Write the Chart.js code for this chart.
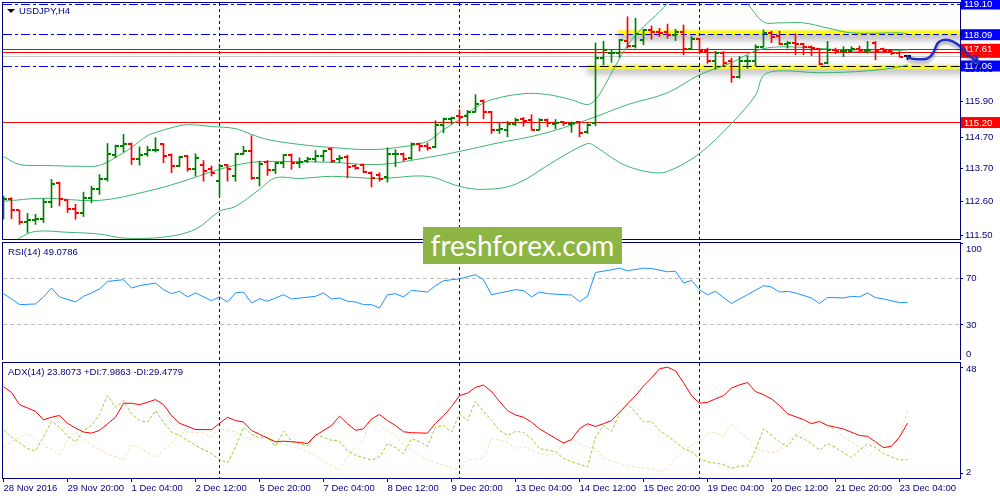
<!DOCTYPE html>
<html>
<head>
<meta charset="utf-8">
<title>USDJPY,H4</title>
<script src="https://cdn.jsdelivr.net/npm/chart.js@4.4.1/dist/chart.umd.min.js"></script>
<style>
  html, body { margin:0; padding:0; background:#ffffff; }
  body { position:relative; width:1000px; height:500px; overflow:hidden; }
  .pane { position:absolute; left:0; width:1000px; }
  .cap { position:absolute; font-family:"Liberation Sans", Arial, sans-serif; font-size:9.5px; line-height:11px; color:#000080; white-space:nowrap; }
  #tri { position:absolute; left:7px; top:9px; width:0; height:0; border-left:4px solid transparent; border-right:4px solid transparent; border-top:4px solid #000; }
  #wm { position:absolute; left:423px; top:227px; width:199px; height:37px; background:#8db544; color:#ffffff; font-family:Lato, "Open Sans", sans-serif; font-size:28px; line-height:36px; text-align:center; z-index:5; }
</style>
</head>
<body>
<div class="pane" style="top:0;height:241px"><canvas id="mainC"></canvas></div>
<div class="pane" style="top:242px;height:118px"><canvas id="rsiC"></canvas></div>
<div class="pane" style="top:361px;height:139px"><canvas id="adxC"></canvas></div>
<div id="tri"></div>
<div class="cap" id="capMain" style="left:19px;top:5px"></div>
<div class="cap" id="capRsi" style="left:8px;top:246px"></div>
<div class="cap" id="capAdx" style="left:8px;top:366px"></div>
<div id="wm">freshforex.com</div>
<script>
// ================= DATA =================
const symbolCaption = 'USDJPY,H4';
const rsiCaption = 'RSI(14) 49.0786';
const adxCaption = 'ADX(14) 23.8073 +DI:7.9863 -DI:29.4779';

// H4 bars, index 0 = 28 Nov 2016 12:00
const opens = [112.62,112.67,112.31,111.93,112.00,112.02,112.59,113.22,112.64,112.35,
  112.24,112.72,113.02,113.33,114.14,114.42,114.51,113.99,114.15,114.29,
  114.50,114.12,113.77,114.09,113.68,113.80,113.66,113.27,113.79,113.44,
  114.18,114.26,113.38,113.91,113.63,113.88,114.13,113.88,113.93,114.01,
  114.09,114.34,113.99,114.07,113.77,113.79,113.55,113.49,113.42,114.15,
  114.18,114.04,114.48,114.44,114.40,115.13,115.32,115.41,115.43,115.56,
  115.90,115.55,114.95,114.97,115.15,115.32,115.30,114.97,115.27,115.16,
  115.21,115.15,115.21,114.88,115.20,117.32,117.48,117.50,117.87,117.72,
  117.92,118.23,118.19,118.17,118.08,118.19,117.61,117.94,117.54,117.21,
  117.48,117.21,116.70,117.21,117.23,117.70,118.14,118.05,117.79,117.83,
  117.79,117.70,117.61,117.15,117.59,117.54,117.54,117.62,117.54,117.83,
  117.61,117.57,117.48,117.38];
const highs = [112.78,112.73,112.32,112.21,112.18,112.70,113.33,113.24,112.65,112.51,
  112.91,113.11,113.49,114.51,114.46,114.81,114.53,114.40,114.42,114.70,
  114.51,114.17,114.09,114.12,114.17,113.95,113.77,113.84,113.82,114.18,
  114.42,114.77,113.93,113.95,113.90,114.15,114.17,114.04,114.06,114.28,
  114.29,114.37,114.12,114.13,113.82,113.84,113.58,113.55,114.37,114.31,
  114.20,114.53,114.53,114.53,115.26,115.35,115.38,115.62,115.60,116.12,
  115.95,115.57,115.17,115.24,115.35,115.37,115.46,115.33,115.32,115.30,
  115.24,115.22,115.24,115.17,117.82,117.87,117.61,117.94,118.68,118.63,
  118.27,118.38,118.30,118.44,118.27,118.41,118.03,117.97,117.65,117.54,
  117.54,117.32,117.37,117.40,117.76,118.25,118.21,118.21,117.87,118.12,
  117.81,117.72,117.63,117.87,117.65,117.70,117.70,117.72,117.87,117.87,
  117.65,117.59,117.54,117.40];
const lows = [112.02,112.04,111.85,111.58,111.85,111.91,112.40,112.46,112.24,112.02,
  112.11,112.56,112.84,113.27,114.04,114.23,113.82,113.80,114.09,114.23,
  113.88,113.55,113.75,113.60,113.44,113.27,113.44,112.78,113.27,113.27,
  114.15,113.33,113.11,113.46,113.52,113.71,113.66,113.71,113.88,113.90,
  113.93,113.88,113.88,113.38,113.66,113.55,113.08,113.27,113.24,113.75,
  113.93,113.99,114.26,114.29,114.37,114.86,115.15,115.17,115.10,115.54,
  115.32,114.84,114.84,114.73,115.10,115.08,114.95,114.95,115.06,114.99,
  115.10,114.88,114.73,114.84,115.10,117.10,117.18,117.35,117.65,117.65,
  117.76,117.94,118.03,117.97,117.90,117.43,117.59,117.48,117.15,116.96,
  117.05,116.52,116.66,116.99,117.07,117.68,117.83,117.76,117.65,117.43,
  117.43,117.40,117.10,117.13,117.46,117.37,117.50,117.50,117.48,117.26,
  117.50,117.43,117.35,117.27];
const closes = [112.70,112.32,111.93,112.00,112.02,112.59,113.17,112.67,112.35,112.24,
  112.73,113.00,113.33,114.15,114.42,114.51,113.99,114.14,114.29,114.31,
  114.09,113.77,114.07,113.68,114.04,113.62,113.55,113.77,113.66,114.15,
  114.26,113.38,113.82,113.63,113.88,114.12,113.88,113.91,113.99,114.09,
  114.26,113.93,114.04,113.75,113.71,113.57,113.38,113.35,114.15,114.18,
  114.01,114.48,114.42,114.37,115.13,115.32,115.35,115.38,115.54,115.81,
  115.54,114.95,114.99,115.15,115.30,115.24,114.97,115.27,115.19,115.20,
  115.19,115.17,114.86,115.13,117.33,117.59,117.50,117.90,117.72,118.11,
  118.23,118.17,118.14,118.08,118.19,117.61,117.94,117.54,117.21,117.48,
  117.15,116.70,117.21,117.24,117.68,118.14,118.03,117.79,117.83,117.79,
  117.70,117.65,117.13,117.59,117.54,117.56,117.62,117.59,117.59,117.57,
  117.57,117.48,117.37,117.38];

// Bollinger bands (read at selected bars)
const bbUpX = [0,2,5,10,12,14,16,18,19,21,23,26,29,31,33,37,41,46,50,53,55,57,59,61,65,68,71,73,74,75,78,80,82,84,86,88,90,92,93,95,97,100,103,106,112,113];
const bbUpV = [114.08,113.82,113.79,113.76,113.79,114.05,114.38,114.77,114.87,115.03,115.13,115.07,115.00,114.81,114.64,114.48,114.38,114.31,114.41,114.58,114.97,115.30,115.69,115.95,116.15,116.12,115.95,115.79,115.95,116.35,117.74,118.35,118.84,119.40,119.82,119.95,119.72,119.33,119.10,118.51,118.48,118.48,118.31,118.15,118.15,118.12];
const bbMidX = [0,5,12,18,22,27,31,35,41,47,53,57,62,66,70,74,78,83,87,91,94,97,103,108,113];
const bbMidV = [112.61,112.71,112.64,112.94,113.23,113.66,113.89,113.92,113.89,113.82,114.05,114.25,114.54,114.74,115.03,115.39,115.79,116.18,116.77,117.17,117.56,117.69,117.62,117.53,117.59];
const bbLowX = [0,2,4,8,12,15,20,24,27,29,32,34,37,41,47,53,57,60,64,69,73,74,76,78,81,83,87,91,94,95,97,102,108,112,113];
const bbLowV = [111.03,111.40,111.62,111.59,111.53,111.40,111.43,111.69,112.28,112.44,113.00,113.38,113.36,113.43,113.36,113.43,113.10,113.00,113.17,113.95,114.51,114.41,114.05,113.76,113.56,113.59,114.18,115.17,116.10,116.75,116.90,116.84,116.90,117.03,117.10];

// RSI(14)
const rsiX = [0,1,2,4,5,6,7,9,10,11,12,13,15,16,17,19,20,21,22,23,24,26,27,28,29,30,31,32,33,35,36,39,40,41,42,43,44,45,46,47,48,49,50,51,53,54,55,56,57,59,60,61,62,64,65,66,67,68,71,72,73,74,76,77,78,80,81,83,84,85,86,87,88,89,91,92,93,95,96,97,98,99,101,102,103,105,106,107,108,109,110,112,113];
const rsiV = [56.7,52.2,47.3,47.9,53.9,61.5,53.9,49.6,54.4,57.3,60.7,67.2,68.6,61.5,63.5,65.8,60.1,56.7,58.7,53.9,57.3,50.7,53.9,49.6,57.3,58.1,48.8,52.4,50.2,55.8,52.2,54.4,57.3,52.2,53.0,50.2,49.6,47.3,47.3,44.5,55.8,56.7,53.9,59.5,58.1,63.5,67.7,68.6,69.4,72.9,68.6,55.8,57.3,60.1,59.3,53.9,58.1,56.7,55.5,49.9,54.4,74.8,77.1,78.5,76.3,78.5,78.2,75.4,75.9,65.8,68.0,60.1,55.8,58.7,48.2,52.2,55.8,63.5,62.4,58.1,58.7,57.3,53.0,48.2,53.5,53.0,54.4,53.9,57.3,53.3,52.2,49.0,49.1];

// ADX(14), +DI, -DI
const adxX = [0,1,2,4,5,6,7,8,9,10,11,12,14,15,16,17,18,19,20,21,22,24,26,27,28,29,30,31,32,34,35,37,38,39,41,42,43,44,45,46,47,48,49,50,51,53,54,55,56,57,58,59,60,61,62,63,64,65,66,67,68,70,71,72,73,74,75,76,77,78,79,80,81,82,83,84,85,86,87,88,89,90,91,92,93,94,95,96,97,98,100,101,102,103,104,105,107,108,109,110,111,112,113];
const adxV = [39.7,37.2,31.9,29.0,25.3,26.4,27.2,23.8,21.7,20.0,19.5,20.7,26.4,32.5,32.5,31.9,32.9,34.1,31.9,27.2,23.8,21.1,21.0,23.8,26.4,25.0,24.3,20.7,19.0,15.7,16.0,15.5,15.0,18.5,22.8,26.9,23.6,20.7,21.4,25.7,27.6,25.0,22.8,20.1,19.7,19.5,23.8,27.0,31.0,35.8,36.9,39.4,40.4,37.6,33.3,29.3,27.4,26.4,24.3,21.4,19.3,15.2,16.7,21.4,23.6,22.4,23.6,25.0,28.6,32.2,35.8,40.0,43.5,47.5,48.2,46.6,41.5,35.8,32.5,32.9,34.4,35.8,39.1,40.5,41.5,37.6,36.2,34.4,31.5,27.9,25.4,23.6,24.6,22.8,22.1,21.3,18.5,18.1,15.7,13.2,13.8,17.8,23.8];
const pdiX = [0,1,2,3,4,5,6,7,8,9,10,11,12,13,14,15,16,17,18,19,20,21,22,24,26,27,28,29,30,31,32,33,34,35,36,37,38,39,41,42,43,44,46,47,48,49,50,51,52,53,54,55,56,57,58,59,60,61,62,63,64,65,66,67,69,70,71,73,74,75,76,77,78,79,80,81,82,84,85,86,87,88,90,91,92,93,94,95,96,97,98,99,100,101,102,103,104,106,107,108,109,110,111,112,113];
const pdiV = [21.0,17.8,15.2,12.8,11.8,17.8,24.7,22.1,18.1,15.7,20.7,22.8,27.6,35.8,30.7,33.6,27.9,25.0,24.3,29.3,24.3,20.0,18.5,14.2,10.6,8.0,6.6,13.5,22.1,19.0,17.4,17.8,13.8,20.4,16.1,15.0,13.9,19.0,16.4,16.1,11.8,9.9,7.8,9.2,15.0,13.2,10.6,17.1,15.9,13.8,22.1,22.8,20.0,27.9,25.0,33.3,29.0,25.0,20.7,18.5,20.3,19.8,17.1,12.8,11.4,8.5,7.0,4.9,17.8,22.8,20.3,27.9,32.2,28.6,24.3,24.6,20.7,15.7,12.8,11.4,8.5,7.0,5.9,4.2,5.2,5.2,12.1,21.4,18.5,15.7,13.6,18.5,17.1,15.0,12.1,15.0,13.2,8.9,12.1,14.7,13.2,10.6,9.2,7.8,8.0];
const mdiX = [0,1,3,4,5,7,8,9,10,11,13,15,16,17,19,21,22,23,25,26,27,29,31,32,33,34,36,37,39,40,42,43,44,45,46,47,48,49,50,52,53,55,57,58,60,61,62,63,64,65,67,68,69,70,71,73,74,75,77,79,81,82,83,84,85,87,88,89,90,91,92,93,94,96,97,98,100,101,102,103,104,105,107,108,109,111,112,113];
const mdiV = [13.5,15.7,19.5,17.1,14.2,10.2,16.4,20.0,17.1,14.2,10.6,7.8,14.2,13.2,8.9,15.0,19.3,20.0,19.5,17.8,21.4,20.0,16.4,21.0,19.3,15.7,13.5,12.8,9.9,7.5,3.7,9.2,13.5,17.1,25.7,22.8,20.5,18.5,14.2,9.9,7.8,5.6,3.4,7.8,8.5,17.1,16.4,15.7,12.8,13.5,10.6,9.9,10.6,15.2,17.1,13.2,12.8,8.5,6.3,4.6,4.2,2.7,4.2,8.5,11.8,16.4,19.0,20.0,17.8,23.6,20.0,17.5,12.8,10.9,11.8,16.4,21.4,24.3,25.7,22.8,20.7,17.8,13.5,9.2,12.1,14.2,17.8,29.5];

// axes
const xTickBars = [0,8,16,24,32,40,48,56,64,72,80,88,96,104,112];
const xTickLabels = ['28 Nov 2016','29 Nov 20:00','1 Dec 04:00','2 Dec 12:00','5 Dec 20:00','7 Dec 04:00','8 Dec 12:00','9 Dec 20:00','13 Dec 04:00','14 Dec 12:00','15 Dec 20:00','19 Dec 04:00','20 Dec 12:00','21 Dec 20:00','23 Dec 04:00'];
const priceTicks = [116.95, 115.90, 114.70, 113.70, 112.60, 111.50];
const rsiTicks = [100, 70, 30, 0];
const rsiLevels = [70, 30];
const adxTicks = [48, 2];

// chart objects (levels in price, anchors in bar index)
const sepBars = [27, 57, 87];
const blueLevels = [119.10, 118.09, 117.06];
const redLevels = [117.61, 117.51, 115.20];
const bidLevel = 117.38;
const boxLevels = [119.10, 118.09, 117.51, 117.61, 117.06, 115.20];
const zoneFrom = [76.8, 72.9];
const zoneHi = [118.23, 117.10];
const zoneLo = [118.09, 116.97];
const zoneLineLevel = [118.09, 117.06];
const pathX = [113.0, 113.6, 115.4, 116.2, 116.8, 117.7, 118.7, 119.8, 120.9, 121.9];
const pathY = [117.36, 117.30, 117.30, 117.49, 117.82, 117.92, 117.86, 117.66, 117.36, 117.17];

// ================= STYLE =================
const FONT = '"Liberation Sans", Arial, sans-serif';
const NAVY = '#000080';
const BULL = '#007f00', BEAR = '#ff0000', DOJI = '#000000';
const BB = '#3cb371';
const boxColors = ['#0000ff','#0000ff','#ff0000','#ff0000','#0000ff','#ff0000'];
const zoneLineColor = ['#0000ff','#000000'];
const zoneLineDash = [[6,3],[9,4]];
const X_MIN = -0.0625, X_MAX = X_MIN + 957 / 8;

document.getElementById('capMain').textContent = symbolCaption;
document.getElementById('capRsi').textContent = rsiCaption;
document.getElementById('capAdx').textContent = adxCaption;

const barIdx = opens.map((_, i) => i);
const barColor = i => closes[i] > opens[i] ? BULL : (closes[i] < opens[i] ? BEAR : DOJI);
const pts = (xs, vs) => xs.map((b, k) => ({ x: b, y: vs[k] }));

function tickImg(color, side) {
  const c = document.createElement('canvas');
  c.width = 9; c.height = 2;
  const g = c.getContext('2d');
  g.fillStyle = color;
  if (side === 'open') g.fillRect(1, 0, 3, 2); else g.fillRect(5, 0, 3, 2);
  return c;
}
const tickImgs = {};
[BULL, BEAR, DOJI].forEach(col => { tickImgs[col] = { open: tickImg(col, 'open'), close: tickImg(col, 'close') }; });

function hline(ctx, a, py, color, dash, x0) {
  const yy = Math.round(py - 0.5) + 0.5;
  ctx.save();
  ctx.strokeStyle = color; ctx.lineWidth = 1; ctx.setLineDash(dash);
  ctx.beginPath(); ctx.moveTo(x0 === undefined ? a.left : x0, yy); ctx.lineTo(a.right, yy); ctx.stroke();
  ctx.restore();
}
function separators(chart) {
  const { ctx, chartArea: a, scales: { x } } = chart;
  ctx.save();
  ctx.strokeStyle = NAVY; ctx.lineWidth = 1; ctx.setLineDash([3, 3]);
  sepBars.forEach(b => {
    const px = Math.floor(x.getPixelForValue(b)) + 0.5;
    ctx.beginPath(); ctx.moveTo(px, a.top); ctx.lineTo(px, a.bottom); ctx.stroke();
  });
  ctx.restore();
}
function frame(chart) {
  const { ctx, chartArea: a } = chart;
  ctx.save();
  ctx.strokeStyle = NAVY; ctx.lineWidth = 1; ctx.setLineDash([]);
  ctx.strokeRect(Math.round(a.left) - 0.5, Math.round(a.top) - 0.5, Math.round(a.right - a.left) + 1, Math.round(a.bottom - a.top) + 1);
  ctx.restore();
}
function sideLabels(chart, values) {
  const { ctx, chartArea: a, scales: { y } } = chart;
  ctx.save();
  ctx.fillStyle = NAVY; ctx.font = '9.5px ' + FONT; ctx.textBaseline = 'middle'; ctx.textAlign = 'left';
  values.forEach(v => {
    let py = y.getPixelForValue(v);
    py = Math.min(Math.max(py, a.top + 6), a.bottom - 6);
    ctx.fillText(String(v), a.right + 6, py);
  });
  ctx.restore();
}

const mainDecor = {
  id: 'mainDecor',
  beforeDatasetsDraw(chart) {
    const { ctx, chartArea: a, scales: { x, y } } = chart;
    ctx.save();
    ctx.beginPath(); ctx.rect(a.left, a.top, a.right - a.left, a.bottom - a.top); ctx.clip();
    zoneFrom.forEach((b, k) => {
      const x0 = x.getPixelForValue(b), y0 = y.getPixelForValue(zoneHi[k]), y1 = y.getPixelForValue(zoneLo[k]);
      ctx.save();
      ctx.shadowColor = 'rgba(0,0,0,0.45)'; ctx.shadowBlur = 7; ctx.shadowOffsetY = 4;
      ctx.fillStyle = '#ffff00';
      ctx.fillRect(x0, y0, a.right - x0 + 10, y1 - y0);
      ctx.restore();
    });
    hline(ctx, a, y.getPixelForValue(bidLevel), '#c8c8c8', []);
    redLevels.forEach(v => hline(ctx, a, y.getPixelForValue(v), '#ff0000', []));
    blueLevels.forEach(v => hline(ctx, a, y.getPixelForValue(v), '#0000ff', [9, 3, 3, 3]));
    zoneLineLevel.forEach((v, k) => {
      const x0 = x.getPixelForValue(zoneFrom[k]);
      ctx.save(); ctx.fillStyle = '#ffff00';
      ctx.fillRect(x0, Math.round(y.getPixelForValue(v) - 0.5), a.right - x0, 1);
      ctx.restore();
      hline(ctx, a, y.getPixelForValue(v), zoneLineColor[k], zoneLineDash[k], x0);
    });
    ctx.restore();
    separators(chart);
    // level labels on the price axis
    ctx.save();
    ctx.font = '9.5px ' + FONT; ctx.textBaseline = 'middle'; ctx.textAlign = 'left';
    boxLevels.forEach((v, k) => {
      const py = y.getPixelForValue(v);
      ctx.fillStyle = boxColors[k];
      ctx.fillRect(a.right + 1, py - 5.5, chart.width - a.right - 1, 11);
      ctx.fillStyle = '#ffffff';
      ctx.fillText(v.toFixed(2), a.right + 4, py + 0.5);
    });
    ctx.restore();
  },
  afterDatasetsDraw(chart) {
    const { ctx, scales: { x, y } } = chart;
    const p = pathX.map((b, k) => ({ x: x.getPixelForValue(b), y: y.getPixelForValue(pathY[k]) }));
    ctx.save();
    ctx.shadowColor = 'rgba(0,0,0,0.35)'; ctx.shadowBlur = 3; ctx.shadowOffsetY = 3;
    ctx.strokeStyle = '#1f2ecf'; ctx.lineWidth = 2.5; ctx.lineJoin = 'round'; ctx.lineCap = 'round';
    ctx.beginPath(); ctx.moveTo(p[0].x, p[0].y);
    for (let i = 0; i < p.length - 1; i++) {
      const p0 = p[i - 1] || p[i], p1 = p[i], p2 = p[i + 1], p3 = p[i + 2] || p2;
      ctx.bezierCurveTo(p1.x + (p2.x - p0.x) / 6, p1.y + (p2.y - p0.y) / 6,
                        p2.x - (p3.x - p1.x) / 6, p2.y - (p3.y - p1.y) / 6, p2.x, p2.y);
    }
    ctx.stroke();
    const e = p[p.length - 1], s = p[p.length - 2];
    const ang = Math.atan2(e.y - s.y, e.x - s.x);
    ctx.beginPath();
    ctx.moveTo(e.x - 7 * Math.cos(ang - 0.5), e.y - 7 * Math.sin(ang - 0.5));
    ctx.lineTo(e.x, e.y);
    ctx.lineTo(e.x - 7 * Math.cos(ang + 0.5), e.y - 7 * Math.sin(ang + 0.5));
    ctx.stroke();
    ctx.restore();
  },
  afterDraw(chart) { frame(chart); }
};

const rsiDecor = {
  id: 'rsiDecor',
  beforeDatasetsDraw(chart) {
    const { ctx, chartArea: a, scales: { y } } = chart;
    rsiLevels.forEach(v => hline(ctx, a, y.getPixelForValue(v), '#c0c0c0', [4, 3]));
    separators(chart);
  },
  afterDraw(chart) { frame(chart); sideLabels(chart, rsiTicks); }
};
const adxDecor = {
  id: 'adxDecor',
  beforeDatasetsDraw(chart) { separators(chart); },
  afterDraw(chart) { frame(chart); sideLabels(chart, adxTicks); }
};

const baseOpts = {
  responsive: true, maintainAspectRatio: false, animation: false, events: [], devicePixelRatio: 1,
  plugins: { legend: { display: false }, tooltip: { enabled: false } }
};
const hiddenX = { type: 'linear', min: X_MIN, max: X_MAX, offset: false, display: false };
const rightY = (min, max, ticksArr, showLabels) => ({
  position: 'right', min, max, offset: false,
  afterFit(s) { s.width = 40; s.paddingTop = 0; s.paddingBottom = 0; },
  afterBuildTicks(s) { s.ticks = ticksArr.map(v => ({ value: v })); },
  ticks: { display: showLabels, color: NAVY, font: { family: FONT, size: 9.5 }, padding: 2, autoSkip: false,
           callback: v => Number(v).toFixed(2) },
  grid: { drawOnChartArea: false, drawTicks: true, tickLength: 3, color: NAVY },
  border: { display: true, color: NAVY }
});
const lineDs = (data, color, extra) => Object.assign({
  type: 'line', data, borderColor: color, borderWidth: 1, pointRadius: 0, tension: 0, fill: false
}, extra || {});

// ---- main price chart ----
new Chart(document.getElementById('mainC'), {
  type: 'line',
  data: {
    datasets: [
      lineDs(pts(bbUpX, bbUpV), BB, { tension: 0.35, order: 5 }),
      lineDs(pts(bbMidX, bbMidV), BB, { tension: 0.35, order: 5 }),
      lineDs(pts(bbLowX, bbLowV), BB, { tension: 0.35, order: 5 }),
      { type: 'bar', data: barIdx.map(i => ({ x: i, y: [lows[i], highs[i]] })),
        backgroundColor: barIdx.map(barColor), barThickness: 1, grouped: false, order: 3 },
      { type: 'scatter', data: barIdx.map(i => ({ x: i, y: opens[i] })),
        pointStyle: c => tickImgs[barColor(c.dataIndex)].open, pointRadius: 1, pointHoverRadius: 1, order: 2 },
      { type: 'scatter', data: barIdx.map(i => ({ x: i, y: closes[i] })),
        pointStyle: c => tickImgs[barColor(c.dataIndex)].close, pointRadius: 1, pointHoverRadius: 1, order: 2 }
    ]
  },
  options: Object.assign({}, baseOpts, {
    layout: { padding: { left: 3, top: 3, right: 0, bottom: 1 } },
    scales: { x: hiddenX, y: rightY(111.369, 119.133, priceTicks, true) }
  }),
  plugins: [mainDecor]
});

// ---- RSI ----
new Chart(document.getElementById('rsiC'), {
  type: 'line',
  data: { datasets: [ lineDs(pts(rsiX, rsiV), '#1e90ff') ] },
  options: Object.assign({}, baseOpts, {
    layout: { padding: { left: 3, top: 1, right: 0, bottom: 0 } },
    scales: { x: hiddenX, y: rightY(0, 100, rsiTicks, false) }
  }),
  plugins: [rsiDecor]
});

// ---- ADX ----
new Chart(document.getElementById('adxC'), {
  type: 'line',
  data: { datasets: [
    lineDs(pts(mdiX, mdiV), '#f5deb3', { borderDash: [3, 2], order: 3 }),
    lineDs(pts(pdiX, pdiV), '#9acd32', { borderDash: [3, 2], order: 2 }),
    lineDs(pts(adxX, adxV), '#ff0000', { order: 1 })
  ] },
  options: Object.assign({}, baseOpts, {
    layout: { padding: { left: 3, top: 2, right: 0, bottom: 0 } },
    scales: {
      x: { type: 'linear', min: X_MIN, max: X_MAX, offset: false, position: 'bottom',
           afterBuildTicks(s) { s.ticks = xTickBars.map(v => ({ value: v })); },
           afterFit(s) { s.height = 22; s.paddingLeft = 0; s.paddingRight = 0; },
           ticks: { color: NAVY, font: { family: FONT, size: 9.5 }, autoSkip: false, maxRotation: 0, minRotation: 0,
                    align: 'start', padding: 1, callback: (v, i) => xTickLabels[i] },
           grid: { drawOnChartArea: false, drawTicks: true, tickLength: 4, color: NAVY },
           border: { display: true, color: NAVY } },
      y: rightY(0, 50, adxTicks, false)
    }
  }),
  plugins: [adxDecor]
});
</script>
</body>
</html>
